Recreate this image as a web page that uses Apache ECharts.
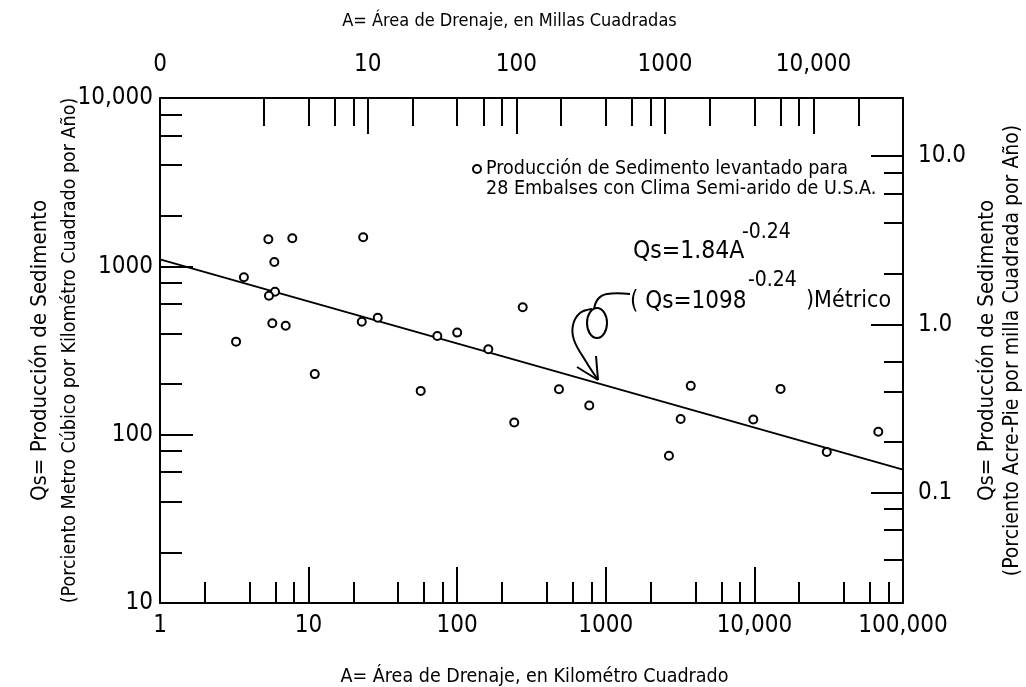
<!DOCTYPE html>
<html><head><meta charset="utf-8">
<script src="https://cdn.jsdelivr.net/npm/echarts@6/dist/echarts.min.js"></script>
<style>html,body{margin:0;padding:0;background:#fff}#c{width:1026px;height:687px}</style>
</head><body><div id="c"></div>
<script>
const FONT = "'Liberation Sans Narrow','Arial Narrow','DejaVu Sans Condensed','Liberation Sans',sans-serif";

// Drainage area (km²) and sediment yield (m³/km²/año) of the 28 reservoirs
const areaKm2 = [5.36, 7.77, 23.3, 5.88, 3.67, 5.94, 5.41, 5.70, 7.01, 3.25, 11.0, 22.8, 29.2, 73.5, 100, 162, 276, 56.8, 484, 774, 242, 3730, 3190, 9830, 2660, 15000, 30700, 68200];
const yieldM3 = [1450, 1470, 1490, 1060, 861, 707, 669, 459, 444, 357, 229, 469, 495, 386, 404, 322, 571, 182, 186, 149, 118, 195, 124, 123, 75, 187, 79, 104];
// fitted line end points
const fitArea = [1, 100000];
const fitYield = [1100, 62];

// bottom axis (km²)
const kmMajor = [1, 10, 100, 1000, 10000, 100000];
const kmLabels = ['1', '10', '100', '1000', '10,000', '100,000'];
const kmMinor = [2, 4, 6, 8, 20, 40, 60, 80, 200, 400, 600, 800, 2000, 4000, 6000, 8000, 20000, 40000, 60000, 80000];
// top axis (millas²)
const miMajor = [0.4, 10, 100, 1000, 10000];
const miLabels = ['0', '10', '100', '1000', '10,000'];
const miMinor = [2, 4, 6, 8, 20, 40, 60, 80, 200, 400, 600, 800, 2000, 4000, 6000, 8000, 20000];
// left axis (m³/km²/año)
const qsMajor = [10, 100, 1000, 10000];
const qsLabels = ['10', '100', '1000', '10,000'];
const qsMinor = [20, 40, 60, 80, 200, 400, 600, 800, 2000, 4000, 6000, 8000];
// right axis (acre-pie/milla²/año)
const afMajor = [0.1, 1, 10];
const afLabels = ['0.1', '1.0', '10.0'];
const afMinor = [0.04, 0.06, 0.08, 0.2, 0.4, 0.6, 2, 4, 6, 8];

const seriesName = 'Producción de Sedimento levantado para\n28 Embalses con Clima Semi-arido de U.S.A.';
const eq1 = ['Qs=1.84A', '-0.24'];
const eq2 = ['( Qs=1098', '-0.24', ')Métrico'];
const leftName = ['Qs= Producción de Sedimento', '(Porciento Metro Cúbico por Kilométro Cuadrado por Año)'];
const rightName = ['Qs= Producción de Sedimento', '(Porciento Acre-Pie por milla Cuadrada por Año)'];

const BLACK = '#000';
const AX = { color: BLACK, width: 2 };
function fmt(vals, labels) {
  return function (v) {
    for (let i = 0; i < vals.length; i++) {
      if (Math.abs(Math.log10(v) - Math.log10(vals[i])) < 1e-4) return labels[i];
    }
    return '';
  };
}
function majorAxis(o) {
  return Object.assign({
    type: 'log', logBase: 10, offset: 0,
    axisLine: { show: true, onZero: false, lineStyle: AX },
    splitLine: { show: false }, minorTick: { show: false },
    axisTick: { show: true, inside: true, length: o.tickLen, lineStyle: AX, customValues: o.ticks },
    axisLabel: { show: true, customValues: o.ticks, formatter: fmt(o.ticks, o.labels), margin: o.margin,
      color: BLACK, fontFamily: FONT, fontSize: 24 },
    nameMoveOverlap: false,
    nameTextStyle: { color: BLACK, fontFamily: FONT, fontSize: 19 }
  }, o.extra);
}
function minorAxis(o) {
  return Object.assign({
    type: 'log', logBase: 10, offset: 0,
    axisLine: { show: false, onZero: false },
    splitLine: { show: false }, minorTick: { show: false },
    axisTick: { show: true, inside: true, length: o.tickLen, lineStyle: AX, customValues: o.ticks },
    axisLabel: { show: false }
  }, o.extra);
}

const chart = echarts.init(document.getElementById('c'), null, { renderer: 'canvas' });
chart.setOption({
  animation: false,
  backgroundColor: '#fff',
  grid: { left: 160, right: 123, top: 98, bottom: 84, containLabel: false, outerBoundsMode: 'none' },
  legend: {
    show: true, left: 467, top: 134, itemWidth: 8, itemHeight: 8, padding: 5,
    data: [{ name: seriesName, icon: 'circle' }],
    formatter: function (n) { return '\n' + n; },
    textStyle: { color: BLACK, fontFamily: FONT, fontSize: 19.5, lineHeight: 20 },
    selectedMode: false
  },
  xAxis: [
    majorAxis({ ticks: kmMajor, labels: kmLabels, tickLen: 36, margin: 11, extra: {
      position: 'bottom', min: 1, max: 100000,
      name: 'A= Área de Drenaje, en Kilométro Cuadrado', nameLocation: 'middle', nameGap: 64,
      nameTextStyle: { color: BLACK, fontFamily: FONT, fontSize: 19.5, padding: [0, 0, 0, 6] } } }),
    minorAxis({ ticks: kmMinor, tickLen: 21, extra: { position: 'bottom', min: 1, max: 100000 } }),
    majorAxis({ ticks: miMajor, labels: miLabels, tickLen: 36, margin: 21, extra: {
      position: 'top', min: 0.4, max: 40000,
      name: 'A= Área de Drenaje, en Millas Cuadradas', nameLocation: 'middle', nameGap: 68,
      nameTextStyle: { color: BLACK, fontFamily: FONT, fontSize: 18, padding: [0, 44, 0, 0] } } }),
    minorAxis({ ticks: miMinor, tickLen: 28, extra: { position: 'top', min: 0.4, max: 40000 } })
  ],
  yAxis: [
    majorAxis({ ticks: qsMajor, labels: qsLabels, tickLen: 33, margin: 7, extra: {
      position: 'left', min: 10, max: 10000,
      name: '{a|' + leftName[0] + '}\n{b|' + leftName[1] + '}',
      nameLocation: 'middle', nameRotate: 90, nameGap: 75,
      nameTextStyle: { color: BLACK, fontFamily: FONT, fontSize: 21,
        rich: { a: { fontFamily: FONT, fontSize: 22, lineHeight: 30, color: BLACK },
                b: { fontFamily: FONT, fontSize: 19.5, lineHeight: 30, color: BLACK } } } } }),
    minorAxis({ ticks: qsMinor, tickLen: 22, extra: { position: 'left', min: 10, max: 10000 } }),
    majorAxis({ ticks: afMajor, labels: afLabels, tickLen: 32, margin: 15, extra: {
      position: 'right', min: 0.0221, max: 22.1,
      name: '{a|' + rightName[0] + '}\n{b|' + rightName[1] + '}',
      nameLocation: 'middle', nameRotate: 90, nameGap: 71,
      nameTextStyle: { color: BLACK, fontFamily: FONT, fontSize: 21,
        rich: { a: { fontFamily: FONT, fontSize: 22, lineHeight: 26, color: BLACK },
                b: { fontFamily: FONT, fontSize: 21, lineHeight: 26, color: BLACK } } } } }),
    minorAxis({ ticks: afMinor, tickLen: 19, extra: { position: 'right', min: 0.0221, max: 22.1 } })
  ],
  series: [
    {
      type: 'scatter', name: seriesName, xAxisIndex: 0, yAxisIndex: 0,
      data: areaKm2.map((a, i) => [a, yieldM3[i]]),
      symbol: 'circle', symbolSize: 8,
      itemStyle: { color: '#fff', borderColor: BLACK, borderWidth: 2, opacity: 1 },
      z: 4
    },
    {
      type: 'line', name: 'ajuste', xAxisIndex: 0, yAxisIndex: 0,
      data: fitArea.map((a, i) => [a, fitYield[i]]),
      showSymbol: false, symbol: 'none', lineStyle: { color: BLACK, width: 2 }, silent: true, z: 3
    }
  ],
  graphic: [
    { type: 'text', style: { text: eq1[0], x: 633, y: 252, fill: BLACK, font: '24.5px ' + FONT, verticalAlign: 'middle' } },
    { type: 'text', style: { text: eq1[1], x: 742, y: 233, fill: BLACK, font: '21px ' + FONT, verticalAlign: 'middle' } },
    { type: 'text', style: { text: eq2[0], x: 630, y: 302, fill: BLACK, font: '24px ' + FONT, verticalAlign: 'middle' } },
    { type: 'text', style: { text: eq2[1], x: 748, y: 281, fill: BLACK, font: '21px ' + FONT, verticalAlign: 'middle' } },
    { type: 'text', style: { text: eq2[2], x: 806, y: 301, fill: BLACK, font: '23px ' + FONT, verticalAlign: 'middle' } },
    { type: 'polyline', shape: { points: [[630, 294], [607, 294], [598, 299], [594, 309]], smooth: 0.4 }, style: { stroke: BLACK, lineWidth: 2, fill: null } },
    { type: 'ellipse', shape: { cx: 597, cy: 323, rx: 10, ry: 15 }, style: { stroke: BLACK, lineWidth: 2, fill: null } },
    { type: 'polyline', shape: { points: [[592, 309], [580, 313], [573, 325], [574, 340], [585, 360], [598, 380]], smooth: 0.4 }, style: { stroke: BLACK, lineWidth: 2, fill: null } },
    { type: 'line', shape: { x1: 577, y1: 367, x2: 598, y2: 380 }, style: { stroke: BLACK, lineWidth: 2 } },
    { type: 'line', shape: { x1: 596, y1: 356, x2: 598, y2: 380 }, style: { stroke: BLACK, lineWidth: 2 } }
  ]
});
</script>
</body></html>
